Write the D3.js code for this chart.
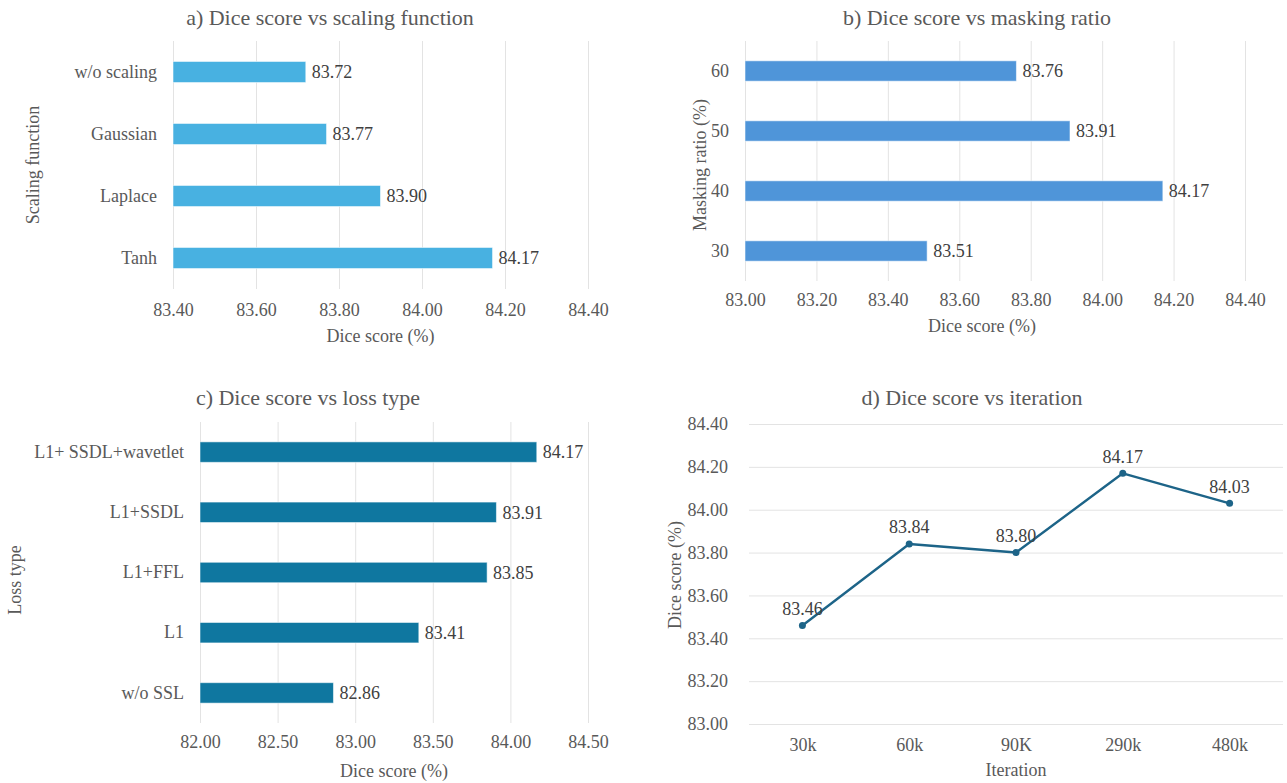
<!DOCTYPE html>
<html>
<head>
<meta charset="utf-8">
<script src="https://cdn.jsdelivr.net/npm/d3@7"></script>
<style>
  html, body { margin: 0; padding: 0; background: #fff; }
  svg { display: block; font-family: "Liberation Serif", "Times New Roman", serif; }
  svg text { font-family: "Liberation Serif", "Times New Roman", serif; }
</style>
</head>
<body>
<svg id="fig" width="1287" height="783"></svg>
<script>
// a) scaling function
const scalingCats = ["w/o scaling", "Gaussian", "Laplace", "Tanh"];
const scalingVals = [83.72, 83.77, 83.90, 84.17];
const scalingTicks = [83.4, 83.6, 83.8, 84.0, 84.2, 84.4];

// b) masking ratio
const maskCats = ["60", "50", "40", "30"];
const maskVals = [83.76, 83.91, 84.17, 83.51];
const maskTicks = [83.0, 83.2, 83.4, 83.6, 83.8, 84.0, 84.2, 84.4];

// c) loss type
const lossCats = ["L1+ SSDL+wavetlet", "L1+SSDL", "L1+FFL", "L1", "w/o SSL"];
const lossVals = [84.17, 83.91, 83.85, 83.41, 82.86];
const lossTicks = [82.0, 82.5, 83.0, 83.5, 84.0, 84.5];

// d) iteration
const iterCats = ["30k", "60k", "90K", "290k", "480k"];
const iterVals = [83.46, 83.84, 83.80, 84.17, 84.03];
const iterTicks = [83.0, 83.2, 83.4, 83.6, 83.8, 84.0, 84.2, 84.4];

const svg = d3.select("#fig");
const textColor = "#595959";
const labelColor = "#404040";
const gridColor = "#e3e3e3";
const fmt = d3.format(".2f");

function styleAxis(g) {
  g.attr("font-family", null).attr("font-size", null);
  g.select(".domain").remove();
  g.selectAll(".tick line").attr("stroke", gridColor).attr("stroke-width", 1);
  g.selectAll(".tick text")
    .attr("fill", textColor)
    .style("font-size", "18px");
}

function labelAxis(g) {
  g.attr("font-family", null).attr("font-size", null);
  g.select(".domain").remove();
  g.selectAll(".tick text").attr("fill", textColor).style("font-size", "18px");
}

function barPanel(opt) {
  const x = d3.scaleLinear().domain(opt.domain).range([opt.x0, opt.x1]);
  const y = d3.scaleBand().domain(opt.cats).range([opt.y0, opt.y1])
    .paddingInner(0.66).paddingOuter(0.33);
  const g = svg.append("g");

  // vertical gridlines + value ticks
  g.append("g")
    .attr("transform", `translate(0,${opt.y1})`)
    .call(d3.axisBottom(x).tickValues(opt.ticks).tickFormat(fmt)
      .tickSize(-(opt.y1 - opt.y0)).tickPadding(opt.tickPad))
    .call(styleAxis);

  // category labels
  g.append("g")
    .attr("transform", `translate(${opt.x0},0)`)
    .call(d3.axisLeft(y).tickSize(0).tickPadding(16))
    .call(labelAxis);

  const data = opt.cats.map((c, i) => ({ c, v: opt.vals[i] }));
  g.selectAll("rect.bar").data(data).join("rect")
    .attr("class", "bar")
    .attr("x", x(opt.domain[0]))
    .attr("y", d => y(d.c))
    .attr("width", d => x(d.v) - x(opt.domain[0]))
    .attr("height", y.bandwidth())
    .attr("fill", opt.color)
    .attr("stroke", "rgba(255,255,255,0.55)")
    .attr("stroke-width", 1);

  g.selectAll("text.val").data(data).join("text")
    .attr("class", "val")
    .attr("x", d => x(d.v) + 6)
    .attr("y", d => y(d.c) + y.bandwidth() / 2)
    .attr("dy", "0.35em")
    .attr("fill", labelColor)
    .style("font-size", "18px")
    .text(d => fmt(d.v));

  g.append("text")
    .attr("x", opt.titleX).attr("y", opt.titleY)
    .attr("text-anchor", "middle").attr("dy", "0.35em")
    .attr("fill", textColor).style("font-size", "22px")
    .text(opt.title);

  g.append("text")
    .attr("x", (opt.x0 + opt.x1) / 2 + (opt.axisTitleShift || 0)).attr("y", opt.axisTitleY)
    .attr("text-anchor", "middle").attr("dy", "0.35em")
    .attr("fill", textColor).style("font-size", "18px")
    .text("Dice score (%)");

  g.append("text")
    .attr("transform", `translate(${opt.yTitleX},${opt.yTitleY}) rotate(-90)`)
    .attr("text-anchor", "middle").attr("dy", "0.35em")
    .attr("fill", textColor).style("font-size", "18px")
    .text(opt.yTitle);
}

barPanel({
  cats: scalingCats, vals: scalingVals, ticks: scalingTicks,
  domain: [83.4, 84.4], x0: 173, x1: 588, y0: 41, y1: 289, tickPad: 14,
  color: "#48b1e1",
  title: "a) Dice score vs scaling function", titleX: 330, titleY: 17,
  axisTitleY: 336, axisTitleShift: 0,
  yTitle: "Scaling function", yTitleX: 33, yTitleY: 165
});

barPanel({
  cats: maskCats, vals: maskVals, ticks: maskTicks,
  domain: [83.0, 84.4], x0: 745, x1: 1245, y0: 41, y1: 281, tickPad: 12,
  color: "#4f95d9",
  title: "b) Dice score vs masking ratio", titleX: 977, titleY: 17,
  axisTitleY: 326, axisTitleShift: -13,
  yTitle: "Masking ratio (%)", yTitleX: 700, yTitleY: 165
});

barPanel({
  cats: lossCats, vals: lossVals, ticks: lossTicks,
  domain: [82.0, 84.5], x0: 200, x1: 588, y0: 422, y1: 723, tickPad: 12,
  color: "#0f77a0",
  title: "c) Dice score vs loss type", titleX: 308, titleY: 397,
  axisTitleY: 771, axisTitleShift: 0,
  yTitle: "Loss type", yTitleX: 15, yTitleY: 580
});

// d) line chart
(function () {
  const x0 = 749, x1 = 1283, y0 = 424, y1 = 724;
  const x = d3.scalePoint().domain(iterCats).range([x0, x1]).padding(0.5);
  const y = d3.scaleLinear().domain([83.0, 84.4]).range([y1, y0]);
  const g = svg.append("g");

  g.append("g")
    .attr("transform", `translate(${x0},0)`)
    .call(d3.axisLeft(y).tickValues(iterTicks).tickFormat(fmt)
      .tickSize(-(x1 - x0)).tickPadding(21))
    .call(styleAxis);

  g.append("g")
    .attr("transform", `translate(0,${y1})`)
    .call(d3.axisBottom(x).tickSize(0).tickPadding(14))
    .call(labelAxis);

  const data = iterCats.map((c, i) => ({ c, v: iterVals[i] }));
  const line = d3.line().x(d => x(d.c)).y(d => y(d.v));
  g.append("path").datum(data)
    .attr("d", line)
    .attr("fill", "none")
    .attr("stroke", "#1d6488")
    .attr("stroke-width", 2.4)
    .attr("stroke-linejoin", "round");

  g.selectAll("circle").data(data).join("circle")
    .attr("cx", d => x(d.c)).attr("cy", d => y(d.v)).attr("r", 3.5)
    .attr("fill", "#1d6488");

  g.selectAll("text.val").data(data).join("text")
    .attr("class", "val")
    .attr("x", d => x(d.c)).attr("y", d => y(d.v) - 17)
    .attr("text-anchor", "middle").attr("dy", "0.35em")
    .attr("fill", labelColor).style("font-size", "18px")
    .text(d => fmt(d.v));

  g.append("text")
    .attr("x", 972).attr("y", 397)
    .attr("text-anchor", "middle").attr("dy", "0.35em")
    .attr("fill", textColor).style("font-size", "22px")
    .text("d) Dice score vs iteration");

  g.append("text")
    .attr("x", (x0 + x1) / 2).attr("y", 770)
    .attr("text-anchor", "middle").attr("dy", "0.35em")
    .attr("fill", textColor).style("font-size", "18px")
    .text("Iteration");

  g.append("text")
    .attr("transform", `translate(675,575) rotate(-90)`)
    .attr("text-anchor", "middle").attr("dy", "0.35em")
    .attr("fill", textColor).style("font-size", "18px")
    .text("Dice score (%)");
})();
</script>
</body>
</html>
